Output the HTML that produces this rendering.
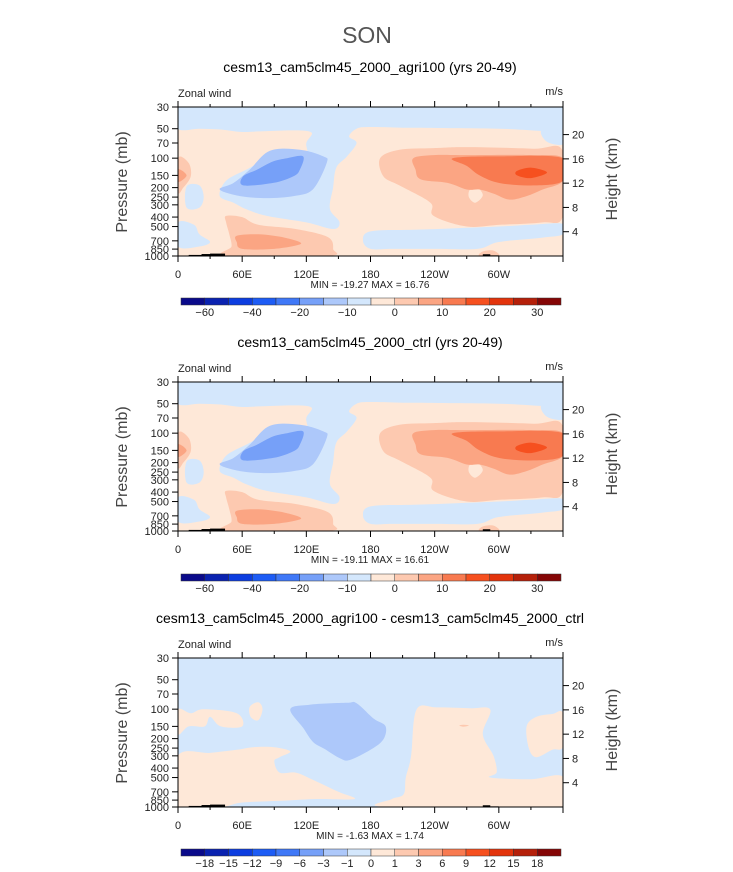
<!DOCTYPE html>
<html><head><meta charset="utf-8">
<style>
html,body{margin:0;padding:0;background:#fff;}
svg{display:block;font-family:"Liberation Sans",sans-serif;}
</style></head>
<body>
<svg id="chart" width="733" height="872" viewBox="0 0 733 872" xmlns="http://www.w3.org/2000/svg">
<text x="367" y="43" text-anchor="middle" font-size="23" fill="#555">SON</text>
</svg>
<script>
// ---- data ----
const colors = ["#0a0a8a","#0a22b0","#0c3de0","#1d5cf5","#3f78f7","#76a0f8","#adc8fa","#d4e7fc","#fee8d8","#fdc9b0","#fba583","#f87a50","#f6501f","#e3340c","#b5200a","#850606"];
const levelsMain = ["-60","-50","-40","-30","-20","-15","-10","-5","0","5","10","15","20","25","30"];
const levelsDiff = ["-18","-15","-12","-9","-6","-3","-1","0","1","3","6","9","12","15","18"];
const pTicks = [30,50,70,100,150,200,250,300,400,500,700,850,1000];
const hTicks = [20,16,12,8,4];
const lonTicks = [0,60,120,180,240,300];
const lonLabels = ["0","60E","120E","180","120W","60W"];
const titles = ["cesm13_cam5clm45_2000_agri100 (yrs 20-49)","cesm13_cam5clm45_2000_ctrl (yrs 20-49)","cesm13_cam5clm45_2000_agri100 - cesm13_cam5clm45_2000_ctrl"];
const minVals = ["-19.27","-19.11","-1.63"];
const maxVals = ["16.76","16.61","1.74"];
const regionsMean = [
 [7,[[0,30],[360,30],[360,51],[300,50],[220,49],[180,48],[167,50],[160,60],[167,70],[158,96],[148,125],[145,200],[142,330],[151,450],[145,530],[120,454],[83,389],[64,333],[52,285],[39,244],[45,170],[64,131],[77,112],[100,100],[120,96],[120,70],[125,55],[110,52],[80,53],[60,54],[40,51],[20,50],[0,50]]],
 [7,[[340,52],[360,52],[360,72],[345,68]]],
 [7,[[8,195],[20,190],[24,250],[20,320],[8,320]]],
 [7,[[0,454],[15,480],[20,600],[30,720],[20,800],[0,800]]],
 [7,[[173,700],[180,560],[220,540],[260,520],[300,500],[330,480],[360,470],[360,600],[340,650],[300,720],[280,846],[240,846],[200,846],[180,846]]],
 [6,[[39,209],[52,179],[67,131],[86,84],[114,82],[136,96],[139,112],[126,209],[108,244],[83,256],[58,244]]],
 [5,[[61,153],[74,131],[89,108],[102,100],[117,96],[114,131],[108,153],[89,179],[61,190]]],
 [9,[[0,100],[10,112],[12,153],[5,200],[0,220]]],
 [10,[[0,130],[8,150],[0,175]]],
 [9,[[45,389],[60,400],[75,480],[110,530],[140,640],[145,846],[140,1000],[45,1000],[50,800],[48,600],[45,454]]],
 [10,[[55,620],[75,600],[100,650],[115,750],[90,846],[60,846],[55,724]]],
 [9,[[189,100],[207,82],[239,79],[270,77],[332,80],[360,85],[360,389],[341,454],[301,480],[270,500],[239,389],[236,285],[207,190],[192,153]]],
 [8,[[273,209],[280,200],[285,240],[278,285],[272,250]]],
 [10,[[220,100],[239,93],[270,93],[332,93],[360,100],[360,170],[341,209],[326,244],[310,265],[295,230],[282,209],[270,209],[252,179],[227,165],[222,130]]],
 [11,[[257,100],[301,96],[360,100],[360,170],[332,190],[301,180],[282,150],[270,120]]],
 [12,[[317,135],[330,125],[345,140],[330,160],[317,150]]],
 [9,[[285,900],[295,880],[300,1000],[282,1000]]]
];
const regionsDiff = [
 [8,[[0,101],[12,110],[24,100],[55,110],[60,150],[40,150],[30,120],[25,150],[10,150],[0,180]]],
 [8,[[67,95],[75,85],[79,100],[75,130],[68,120]]],
 [8,[[0,300],[30,280],[55,260],[70,245],[90,245],[105,270],[95,310],[90,340],[95,445],[110,445],[125,520],[150,700],[165,829],[130,829],[100,860],[60,900],[40,1000],[0,1000]]],
 [8,[[223,101],[242,96],[273,98],[292,101],[285,180],[295,300],[298,440],[292,500],[330,520],[360,490],[360,1000],[195,1000],[200,829],[211,740],[213,500],[218,300]]],
 [8,[[326,150],[335,120],[350,112],[360,110],[360,240],[350,260],[335,310],[328,250]]],
 [6,[[105,100],[123,90],[158,86],[167,87],[183,125],[194,149],[192,204],[180,260],[161,330],[152,320],[137,255],[126,215],[117,155]]],
 [9,[[263,147],[267,144],[272,147],[267,151]]]
];
const terrain = [[10,30,975],[22,40,955],[30,44,945],[90,110,990],[285,292,960],[292,300,985]];
// ---- layout ----
const X0=178, X1=563, PH=149;
const tops=[107,382,658];
const cbTops=[298,574,849];
const svg=document.getElementById('chart');
const NS="http://www.w3.org/2000/svg";
function xs(lon){return X0+(X1-X0)*lon/360;}
function ys(top,p){return top+PH*Math.log(p/30)/Math.log(1000/30);}
function hy(top,h){return ys(top,1000*Math.exp(-h/7));}
function mk(tag,attrs,parent){const e=document.createElementNS(NS,tag);for(const k in attrs)e.setAttribute(k,attrs[k]);(parent||svg).appendChild(e);return e;}
function txt(x,y,s,size,anchor,parent,fill){const t=mk('text',{x:x,y:y,'font-size':size,'text-anchor':anchor||'middle',fill:fill||'#222'},parent);t.textContent=s;return t;}
function smooth(pts){
 const n=pts.length;let d='M'+pts[0][0].toFixed(1)+','+pts[0][1].toFixed(1);
 for(let i=0;i<n;i++){
  const p0=pts[(i-1+n)%n],p1=pts[i],p2=pts[(i+1)%n],p3=pts[(i+2)%n];
  const c1=[p1[0]+(p2[0]-p0[0])/6,p1[1]+(p2[1]-p0[1])/6];
  const c2=[p2[0]-(p3[0]-p1[0])/6,p2[1]-(p3[1]-p1[1])/6];
  d+='C'+c1.map(v=>v.toFixed(1)).join(',')+' '+c2.map(v=>v.toFixed(1)).join(',')+' '+p2[0].toFixed(1)+','+p2[1].toFixed(1);
 }
 return d+'Z';
}

for(let i=0;i<3;i++){
 const top=tops[i], bot=top+PH;
 const g=mk('g',{});
 
 
 const tt=txt(370,72+(tops[i]-107),titles[i],14,'middle',g,'#000');
 
 
 const zl=txt(178,97+(top-107),"Zonal wind",11,'start',g,'#222');
 
 
 const ul=txt(563,95+(top-107),"m/s",11,'end',g,'#222');
 
 
 const cp=mk('clipPath',{id:'clip'+i},g);
 mk('rect',{x:X0,y:top,width:X1-X0,height:PH},cp);
 const pg=mk('g',{'clip-path':'url(#clip'+i+')'},g);
 
 
 const bg=mk('rect',{x:X0,y:top,width:X1-X0,height:PH,fill:i<2?colors[8]:colors[7]},pg);
 
 
 const regs=i<2?regionsMean:regionsDiff;
 regs.forEach(r=>{
  const pts=r[1].map(pt=>[xs(pt[0]),ys(top,pt[1])]);
  const pa=mk('path',{d:smooth(pts),fill:colors[r[0]],stroke:'none'},pg);
  
  
 });
 terrain.forEach(t=>{
  const r=mk('rect',{x:xs(t[0]),y:ys(top,t[2]),width:xs(t[1])-xs(t[0]),height:bot-ys(top,t[2]),fill:'#000'},pg);
  
  
 });
 const fr=mk('rect',{x:X0,y:top,width:X1-X0,height:PH,fill:'none',stroke:'#000','stroke-width':1},g);
 
 
 pTicks.forEach(p=>{
  const y=ys(top,p);
  mk('line',{x1:X0-6,x2:X0,y1:y,y2:y,stroke:'#000'},g);
  const t=txt(X0-9,y+4,String(p),11,'end',g,'#222');
  
  
 });
 hTicks.forEach(h=>{
  const y=hy(top,h);
  mk('line',{x1:X1,x2:X1+6,y1:y,y2:y,stroke:'#000'},g);
  const t=txt(X1+9,y+4,String(h),11,'start',g,'#222');
  
  
 });
 for(let lon=0;lon<=360;lon+=30){
  const x=xs(lon), L=lon%60===0?6:3;
  mk('line',{x1:x,x2:x,y1:bot,y2:bot+L,stroke:'#000'},g);
  mk('line',{x1:x,x2:x,y1:top,y2:top-L,stroke:'#000'},g);
 }
 lonTicks.forEach((lon,j)=>{
  const t=txt(xs(lon),bot+22,lonLabels[j],11,'middle',g,'#222');
  
  
 });
 const mm=txt(370,bot+32,"MIN = "+minVals[i]+"    MAX =   "+maxVals[i],10,'middle',g,'#222');
 mm.setAttribute('xml:space','preserve');
 
 
 const pt=txt(0,0,"Pressure (mb)",16,'middle',g,'#444');
 pt.setAttribute('transform','translate(127,'+(top+75)+') rotate(-90)');
 
 
 const ht=txt(0,0,"Height (km)",16,'middle',g,'#444');
 ht.setAttribute('transform','translate(617,'+(top+72)+') rotate(-90)');
 
 
 const cb=mk('g',{});
 
 
 const c0=181,c1=561,bw=(c1-c0)/16,ct=cbTops[i];
 colors.forEach((c,k)=>{
  const r=mk('rect',{x:c0+k*bw,y:ct,width:bw,height:7,fill:c,stroke:'#333','stroke-width':0.5},cb);
  
  
 });
 const labs=i<2?levelsMain:levelsDiff;
 labs.forEach((s,k)=>{
  if(i<2 && k%2===1) return;
  const t=txt(c0+(k+1)*bw,ct+18,s.replace('-','\u2212'),11,'middle',cb,'#222');
  
  
 });
}
</script>
</body></html>
